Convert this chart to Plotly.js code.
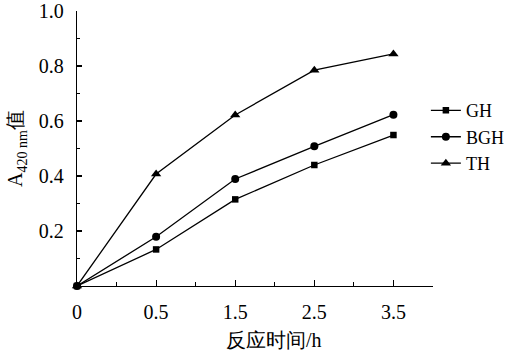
<!DOCTYPE html>
<html>
<head>
<meta charset="utf-8">
<script src="https://cdn.plot.ly/plotly-3.0.1.min.js"></script>
<style>html,body{margin:0;padding:0;background:#fff;}#chart{width:513px;height:358px;}</style>
</head>
<body>
<div id="chart"></div>
<script>
const timeLabels = ['0', '0.5', '1.5', '2.5', '3.5'];
const GH  = [0, 0.133, 0.315, 0.440, 0.549];
const BGH = [0, 0.179, 0.389, 0.508, 0.623];
const TH  = [0, 0.407, 0.622, 0.785, 0.844];
const yTickVals = [0.2, 0.4, 0.6, 0.8, 1.0];
const yTickText = ['0.2', '0.4', '0.6', '0.8', '1.0'];
const xTitle = '反应时间/h';
const yTitle = 'A<sub>420 nm</sub>值';

const xPos = timeLabels.map((_, i) => i);
const xMinor = xPos.map(i => i + 0.5);
const yMinor = yTickVals.map(v => v - 0.1);
const font = {family: '"Liberation Serif", "Times New Roman", serif', color: '#000'};

function tr(name, y, sym, size) {
  return {
    x: xPos, y: y, name: name, type: 'scatter', mode: 'lines+markers',
    line: {color: '#000', width: 1.3},
    marker: {symbol: sym, size: size, color: '#000'},
    cliponaxis: false
  };
}

const data = [
  tr('GH', GH, 'square', 6.5),
  tr('BGH', BGH, 'circle', 8),
  tr('TH', TH, 'triangle-up', 9)
];

const layout = {
  width: 513, height: 358,
  margin: {l: 77, r: 80, t: 11, b: 72, autoexpand: false},
  paper_bgcolor: '#fff', plot_bgcolor: '#fff',
  font: Object.assign({size: 20}, font),
  showlegend: true,
  legend: {
    x: 0.98, xanchor: 'left', y: 0.705, yanchor: 'top',
    font: Object.assign({size: 18}, font),
    bgcolor: 'rgba(0,0,0,0)', borderwidth: 0, tracegroupgap: 0
  },
  annotations: [{
    text: xTitle, xref: 'paper', yref: 'paper', x: 0.553, y: -0.196,
    xanchor: 'center', yanchor: 'middle', showarrow: false,
    font: Object.assign({size: 20}, font)
  }],
  xaxis: {
    range: [0, 4.5], showgrid: false, zeroline: false,
    showline: true, linecolor: '#000', linewidth: 1.3,
    tickmode: 'array', tickvals: xPos, ticktext: timeLabels,
    ticks: 'inside', ticklen: 6, tickwidth: 1.2, tickcolor: '#000',
    ticklabelstandoff: 8,
    tickfont: Object.assign({size: 20}, font),
    minor: {ticks: 'inside', tickmode: 'array', tickvals: xMinor, ticklen: 4, tickwidth: 1.2, tickcolor: '#000', showgrid: false}
  },
  yaxis: {
    range: [0, 1.0], showgrid: false, zeroline: false,
    showline: true, linecolor: '#000', linewidth: 1.3,
    tickmode: 'array', tickvals: yTickVals, ticktext: yTickText,
    ticks: 'inside', ticklen: 5, tickwidth: 1.2, tickcolor: '#000',
    ticklabelstandoff: 8,
    tickfont: Object.assign({size: 20}, font),
    minor: {ticks: 'inside', tickmode: 'array', tickvals: yMinor, ticklen: 3, tickwidth: 1.2, tickcolor: '#000', showgrid: false},
    title: {text: yTitle, font: Object.assign({size: 20}, font), standoff: 10}
  }
};

Plotly.newPlot('chart', data, layout, {staticPlot: true, displayModeBar: false});
</script>
</body>
</html>
